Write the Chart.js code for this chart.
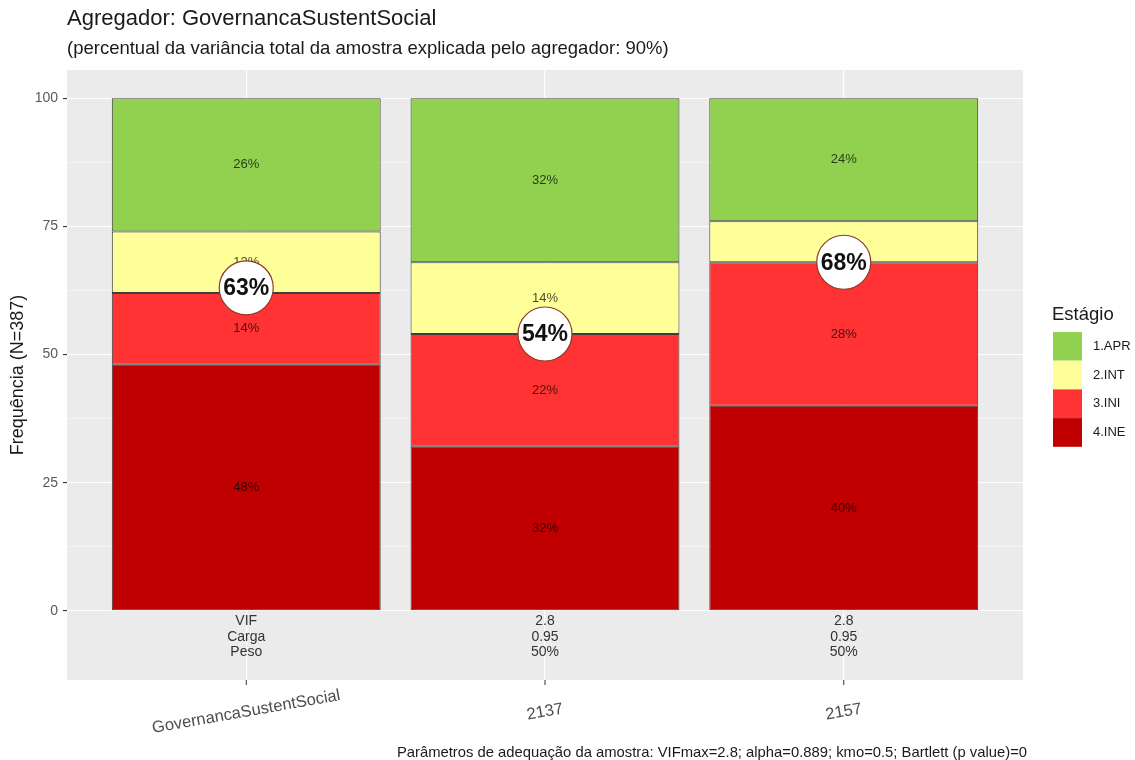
<!DOCTYPE html>
<html>
<head>
<meta charset="utf-8">
<script src="https://cdn.jsdelivr.net/npm/chart.js@4.4.0/dist/chart.umd.min.js"></script>
<style>
    html, body { margin: 0; padding: 0; background: #ffffff; }
    #wrap { width: 1135px; height: 760px; }
</style>
</head>
<body>
<div id="wrap"><canvas id="stageChart" width="1135" height="760"></canvas></div>
<script>
// Stacked share of each stage per indicator (percent)
const categories = ['GovernancaSustentSocial', '2137', '2157'];
const stageNames = ['4.INE', '3.INI', '2.INT', '1.APR'];
const stageColors = ['#C00000', '#FF3333', '#FFFF99', '#92D050'];
const ineValues = [48, 32, 40];
const iniValues = [14, 22, 28];
const intValues = [12, 14, 8];
const aprValues = [26, 32, 24];
// INE + INI share shown in the white bubble
const bubbleValues = [63, 54, 68];
// per-indicator parameters printed below each bar
const vifRow = ['VIF', '2.8', '2.8'];
const cargaRow = ['Carga', '0.95', '0.95'];
const pesoRow = ['Peso', '50%', '50%'];
const yMajorTicks = [0, 25, 50, 75, 100];
const yMinorTicks = [12.5, 37.5, 62.5, 87.5];

const FONT = '"Liberation Sans", Arial, Helvetica, sans-serif';
const stageSeries = [ineValues, iniValues, intValues, aprValues];

const datasets = stageSeries.map((vals, d) => ({
    label: stageNames[d],
    data: vals.map((v, i) => ({ x: i + 1, y: v })),
    backgroundColor: stageColors[d],
    borderColor: '#3d3d3d',
    borderWidth: 1,
    borderSkipped: false,
    barPercentage: 0.9,
    categoryPercentage: 1.0
}));

const panelPlugin = {
    id: 'panel',
    beforeDraw(chart) {
        const { ctx, chartArea: a } = chart;
        ctx.save();
        ctx.fillStyle = '#EBEBEB';
        ctx.fillRect(a.left, a.top, a.right - a.left, a.bottom - a.top);
        ctx.restore();
    }
};

const labelPlugin = {
    id: 'segmentLabels',
    afterDatasetsDraw(chart) {
        const { ctx } = chart;
        const x = chart.scales.x, y = chart.scales.y;
        ctx.save();
        ctx.textAlign = 'center';
        ctx.textBaseline = 'middle';

        // percent inside each segment
        ctx.font = '13px ' + FONT;
        ctx.fillStyle = 'rgba(0,0,0,0.72)';
        stageSeries.forEach((vals, d) => {
            const meta = chart.getDatasetMeta(d);
            vals.forEach((v, i) => {
                if (v < 10) return;
                const el = meta.data[i];
                ctx.fillText(v + '%', el.x, (el.y + el.base) / 2);
            });
        });

        // bubbles with INE + INI share
        bubbleValues.forEach((v, i) => {
            const cx = x.getPixelForValue(i + 1);
            const cy = y.getPixelForValue(v);
            ctx.beginPath();
            ctx.arc(cx, cy, 27, 0, Math.PI * 2);
            ctx.fillStyle = '#ffffff';
            ctx.fill();
            ctx.lineWidth = 1.2;
            ctx.strokeStyle = '#8B3A2A';
            ctx.stroke();
            ctx.fillStyle = '#111111';
            ctx.font = 'bold 23px ' + FONT;
            ctx.fillText(v + '%', cx, cy + 1);
        });

        // parameter rows inside the panel, below zero
        ctx.font = '14px ' + FONT;
        ctx.fillStyle = '#333333';
        [vifRow, cargaRow, pesoRow].forEach((row, r) => {
            row.forEach((txt, i) => {
                ctx.fillText(txt, x.getPixelForValue(i + 1), y.getPixelForValue(-2 - r * 3.05));
            });
        });
        ctx.restore();
    }
};

const framePlugin = {
    id: 'frame',
    afterDraw(chart) {
        const { ctx, chartArea: a } = chart;
        const x = chart.scales.x;
        ctx.save();

        // titles
        ctx.textAlign = 'left';
        ctx.textBaseline = 'alphabetic';
        ctx.fillStyle = '#1a1a1a';
        ctx.font = '22px ' + FONT;
        ctx.fillText('Agregador: GovernancaSustentSocial', 67, 25);
        ctx.font = '18.5px ' + FONT;
        ctx.fillText('(percentual da variância total da amostra explicada pelo agregador: 90%)', 67, 54);

        // y axis title
        ctx.save();
        ctx.translate(18, (a.top + a.bottom) / 2);
        ctx.rotate(-Math.PI / 2);
        ctx.textAlign = 'center';
        ctx.textBaseline = 'middle';
        ctx.font = '18px ' + FONT;
        ctx.fillText('Frequência (N=387)', 0, 0);
        ctx.restore();

        // x ticks and slanted category labels
        ctx.strokeStyle = '#333333';
        ctx.lineWidth = 1;
        ctx.fillStyle = '#4D4D4D';
        ctx.font = '16.5px ' + FONT;
        ctx.textAlign = 'center';
        ctx.textBaseline = 'middle';
        categories.forEach((c, i) => {
            const px = x.getPixelForValue(i + 1);
            ctx.beginPath();
            ctx.moveTo(px, a.bottom);
            ctx.lineTo(px, a.bottom + 5);
            ctx.stroke();
            ctx.save();
            ctx.translate(px, a.bottom + 32);
            ctx.rotate(-10 * Math.PI / 180);
            ctx.fillText(c, 0, 0);
            ctx.restore();
        });

        // legend
        ctx.textAlign = 'left';
        ctx.fillStyle = '#1a1a1a';
        ctx.font = '18.5px ' + FONT;
        ctx.fillText('Estágio', 1052, 315);
        ctx.font = '13px ' + FONT;
        const order = [3, 2, 1, 0];
        order.forEach((d, k) => {
            const ky = 332 + k * 28.7;
            ctx.fillStyle = stageColors[d];
            ctx.fillRect(1053, ky, 29, 28.7);
            ctx.fillStyle = '#1a1a1a';
            ctx.fillText(stageNames[d], 1093, ky + 14.5);
        });

        // caption
        ctx.textAlign = 'right';
        ctx.textBaseline = 'alphabetic';
        ctx.font = '14.8px ' + FONT;
        ctx.fillText('Parâmetros de adequação da amostra: VIFmax=2.8; alpha=0.889; kmo=0.5; Bartlett (p value)=0', 1027, 757);
        ctx.restore();
    }
};

new Chart(document.getElementById('stageChart').getContext('2d'), {
    type: 'bar',
    data: { datasets: datasets },
    options: {
        responsive: false,
        animation: false,
        devicePixelRatio: 1,
        layout: { padding: { top: 70, right: 112, bottom: 80, left: 0 } },
        plugins: { legend: { display: false }, tooltip: { enabled: false } },
        scales: {
            x: {
                type: 'linear',
                stacked: true,
                offset: false,
                min: 0.4,
                max: 3.6,
                afterBuildTicks: s => { s.ticks = categories.map((c, i) => ({ value: i + 1 })); },
                afterFit: s => { s.height = 0; },
                ticks: { display: false },
                grid: { color: '#ffffff', lineWidth: 1.1, drawTicks: false, offset: false },
                border: { display: false }
            },
            y: {
                stacked: true,
                min: -13.5,
                max: 105.5,
                afterBuildTicks: s => {
                    s.ticks = yMajorTicks.concat(yMinorTicks).sort((p, q) => p - q).map(v => ({ value: v }));
                },
                afterFit: s => { s.width = 67; },
                ticks: {
                    autoSkip: false,
                    color: '#595959',
                    font: { family: FONT, size: 14 },
                    padding: 5,
                    callback: v => yMajorTicks.includes(v) ? v : ''
                },
                grid: {
                    color: '#ffffff',
                    lineWidth: c => (c.tick && yMajorTicks.includes(c.tick.value)) ? 1.1 : 0.5,
                    tickColor: c => (c.tick && yMajorTicks.includes(c.tick.value)) ? '#333333' : 'rgba(0,0,0,0)',
                    tickLength: 4
                },
                border: { display: false }
            }
        }
    },
    plugins: [panelPlugin, labelPlugin, framePlugin]
});
</script>
</body>
</html>
